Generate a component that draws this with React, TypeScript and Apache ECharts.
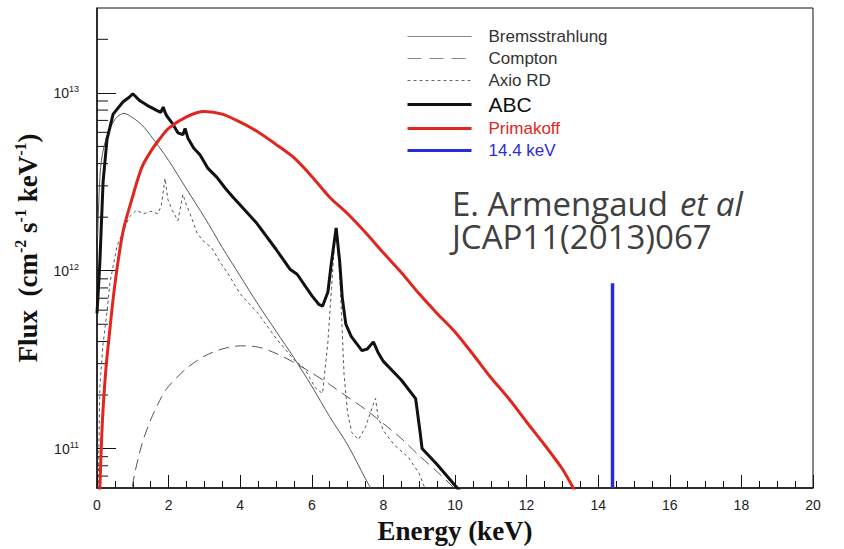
import React, { useEffect, useRef } from "react";
import * as echarts from "echarts";

// Solar axion flux components, energy in keV, flux in cm^-2 s^-1 keV^-1
const bremsEnergy = [0.02, 0.1, 0.25, 0.5, 0.75, 1.0, 1.25, 1.5, 2.0, 2.5, 3.0, 3.5, 4.0, 4.5, 5.0, 5.5, 6.0, 6.5, 7.0, 7.5, 8.0];
const bremsFlux = [1.58e12, 3.8e12, 5.5e12, 7.08e12, 7.67e12, 7.24e12, 6.61e12, 5.75e12, 4.17e12, 2.88e12, 2.0e12, 1.35e12, 9.33e11, 6.46e11, 4.57e11, 3.24e11, 2.24e11, 1.51e11, 1.05e11, 6.76e10, 4.47e10];

const comptonEnergy = [0.85, 1.0, 1.25, 1.5, 1.75, 2.0, 2.5, 3.0, 3.5, 4.0, 4.5, 5.0, 5.5, 6.0, 6.5, 7.0, 7.5, 8.0, 8.5, 9.0, 9.5, 10.0, 10.2];
const comptonFlux = [3.16e10, 6.31e10, 1.05e11, 1.45e11, 1.86e11, 2.24e11, 2.82e11, 3.31e11, 3.63e11, 3.78e11, 3.72e11, 3.43e11, 3.05e11, 2.66e11, 2.29e11, 1.95e11, 1.66e11, 1.38e11, 1.14e11, 9.12e10, 7.41e10, 5.89e10, 5.0e10];

const axioEnergy = [0.02, 0.08, 0.17, 0.28, 0.36, 0.56, 0.73, 0.9, 1.1, 1.3, 1.5, 1.7, 1.8, 1.9, 1.98, 2.1, 2.26, 2.4, 2.5, 2.6, 2.8, 3.0, 3.2, 3.4, 3.7, 4.0, 4.5, 5.0, 5.5, 5.8, 6.1, 6.3, 6.45, 6.55, 6.65, 6.72, 6.8, 6.9, 7.0, 7.12, 7.3, 7.5, 7.7, 7.78, 7.85, 8.0, 8.3, 8.7, 9.0, 9.15, 9.3];
const axioFlux = [4.0e10, 2.24e11, 3.89e11, 5.89e11, 8.5e11, 1.38e12, 1.66e12, 2.0e12, 2.19e12, 2.09e12, 2.16e12, 2.09e12, 2.34e12, 3.31e12, 2.51e12, 2.19e12, 1.91e12, 2.69e12, 2.34e12, 2.09e12, 1.62e12, 1.45e12, 1.35e12, 1.15e12, 9.33e11, 7.41e11, 5.75e11, 4.17e11, 3.16e11, 2.82e11, 2.19e11, 2.04e11, 3.98e11, 7.94e11, 1.58e12, 1.41e12, 7.94e11, 2.63e11, 1.58e11, 1.23e11, 1.12e11, 1.32e11, 1.74e11, 1.91e11, 1.51e11, 1.26e11, 1.05e11, 8.91e10, 7.24e10, 6.03e10, 5.0e10];

const abcEnergy = [0.0, 0.04, 0.08, 0.17, 0.28, 0.45, 0.73, 0.9, 1.0, 1.1, 1.2, 1.4, 1.68, 1.78, 1.85, 1.9, 1.95, 2.1, 2.26, 2.4, 2.46, 2.54, 2.7, 2.88, 3.1, 3.35, 3.6, 3.8, 4.0, 4.47, 5.0, 5.39, 5.59, 6.0, 6.2, 6.3, 6.45, 6.55, 6.68, 6.78, 6.85, 6.95, 7.1, 7.4, 7.55, 7.72, 7.85, 8.0, 8.5, 8.9, 9.02, 9.08, 9.5, 10.14, 10.3];
const abcFlux = [5.75e11, 7.94e11, 1.12e12, 3.16e12, 5.5e12, 7.59e12, 8.91e12, 9.44e12, 9.89e12, 9.44e12, 9.02e12, 8.51e12, 7.94e12, 7.76e12, 8.32e12, 7.76e12, 7.41e12, 6.76e12, 5.96e12, 5.82e12, 6.31e12, 5.56e12, 4.9e12, 4.47e12, 3.76e12, 3.35e12, 2.88e12, 2.59e12, 2.34e12, 1.84e12, 1.32e12, 1.02e12, 9.55e11, 7.24e11, 6.46e11, 6.31e11, 7.59e11, 1.12e12, 1.74e12, 1.12e12, 7.08e11, 5.01e11, 4.27e11, 3.55e11, 3.63e11, 3.98e11, 3.47e11, 3.09e11, 2.43e11, 1.91e11, 1.26e11, 1.0e11, 8.13e10, 5.75e10, 5.25e10];

const primakoffEnergy = [0.05, 0.08, 0.15, 0.25, 0.35, 0.45, 0.6, 0.75, 1.0, 1.25, 1.5, 1.75, 2.0, 2.5, 3.0, 3.5, 4.0, 4.5, 5.0, 5.5, 6.0, 6.5, 7.0, 7.5, 8.0, 8.5, 9.0, 9.5, 10.0, 10.5, 11.0, 11.5, 12.0, 12.5, 13.0, 13.3, 13.6];
const primakoffFlux = [4.0e10, 6.0e10, 1.41e11, 2.82e11, 4.47e11, 6.92e11, 1.17e12, 1.74e12, 2.63e12, 3.8e12, 4.68e12, 5.5e12, 6.31e12, 7.33e12, 7.85e12, 7.59e12, 6.84e12, 6.03e12, 5.13e12, 4.32e12, 3.39e12, 2.59e12, 2.09e12, 1.64e12, 1.26e12, 9.77e11, 7.41e11, 5.75e11, 4.52e11, 3.39e11, 2.51e11, 1.91e11, 1.41e11, 1.05e11, 7.67e10, 6.03e10, 4.8e10];

// 14.4 keV line from the 57Fe M1 transition
const ironEnergy = [14.4, 14.4];
const ironFlux = [6.0e10, 8.5e11];

const xTicks = { min: 0, max: 20, interval: 2 };
const yRange = { min: 6e10, max: 3e13 };
const yMinorTicks = [7e10, 8e10, 9e10, 2e11, 3e11, 4e11, 5e11, 6e11, 7e11, 8e11, 9e11, 2e12, 3e12, 4e12, 5e12, 6e12, 7e12, 8e12, 9e12, 2e13];

const zip = (xs: number[], ys: number[]) => xs.map((x, i) => [x, ys[i]]);

const GREY = "#555555";
const RED = "#e0261f";
const BLUE = "#2b2bd6";

export default function App() {
  const ref = useRef<HTMLDivElement>(null);

  useEffect(() => {
    if (!ref.current) return;
    const chart = echarts.init(ref.current, null, { renderer: "svg" });

    const labelFont = "Liberation Sans";
    const titleFont = "Liberation Serif";

    chart.setOption({
      animation: false,
      backgroundColor: "#ffffff",
      grid: {
        left: 97,
        right: 31,
        top: 8,
        bottom: 54,
        show: true,
        borderColor: "#111",
        borderWidth: 1,
        backgroundColor: "transparent",
      },
      legend: {
        orient: "vertical",
        left: 406,
        top: 28,
        itemWidth: 64,
        itemHeight: 14,
        itemGap: 5,
        padding: 0,
        selectedMode: false,
        // line samples only, no marker dot
        itemStyle: { color: "rgba(0,0,0,0)", borderColor: "rgba(0,0,0,0)", borderWidth: 0 },
        textStyle: {
          fontFamily: labelFont,
          fontSize: 17,
          color: "#333",
          lineHeight: 16,
          padding: [0, 0, 0, 12],
        },
        data: [
          { name: "Bremsstrahlung", lineStyle: { color: "#888", width: 1.2 } },
          { name: "Compton", lineStyle: { color: "#888", width: 1.2, type: [14, 8] } },
          { name: "Axio RD", lineStyle: { color: "#666", width: 1.2, type: [3, 3] } },
          { name: "ABC", lineStyle: { color: "#111", width: 3 }, textStyle: { fontSize: 21, lineHeight: 16, color: "#111" } },
          { name: "Primakoff", lineStyle: { color: RED, width: 3 }, textStyle: { color: RED } },
          { name: "14.4 keV", lineStyle: { color: BLUE, width: 3 }, textStyle: { color: BLUE } },
        ],
      },
      xAxis: {
        type: "value",
        min: xTicks.min,
        max: xTicks.max,
        interval: xTicks.interval,
        name: "Energy (keV)",
        nameLocation: "middle",
        nameGap: 29,
        nameTextStyle: {
          fontFamily: titleFont,
          fontWeight: "bold",
          fontSize: 27,
          color: "#111",
        },
        axisLine: { show: true, lineStyle: { color: "#111", width: 1.5 } },
        axisTick: { show: true, inside: true, length: 13, lineStyle: { color: "#111" } },
        minorTick: { show: true, splitNumber: 4, length: 7, lineStyle: { color: "#111" } },
        splitLine: { show: false },
        axisLabel: {
          margin: 10,
          fontFamily: labelFont,
          fontSize: 14,
          color: "#222",
        },
      },
      yAxis: {
        type: "log",
        logBase: 10,
        min: yRange.min,
        max: yRange.max,
        name: "Flux  (cm{sup|-2} s{sup|-1} keV{sup|-1})",
        nameLocation: "middle",
        nameRotate: 90,
        nameGap: 40,
        nameTextStyle: {
          fontFamily: titleFont,
          fontWeight: "bold",
          fontSize: 27,
          color: "#111",
          lineHeight: 30,
          rich: {
            sup: {
              fontFamily: titleFont,
              fontWeight: "bold",
              fontSize: 16,
              color: "#111",
              verticalAlign: "top",
            },
          },
        },
        axisLine: { show: true, lineStyle: { color: "#111", width: 1.5 } },
        axisTick: { show: true, inside: true, length: 19, lineStyle: { color: "#111" } },
        splitLine: { show: false },
        axisLabel: {
          margin: 18,
          showMinLabel: false,
          showMaxLabel: false,
          fontFamily: labelFont,
          fontSize: 14,
          color: "#222",
          lineHeight: 16,
          formatter: (v: number) => "10{sup|" + Math.round(Math.log10(v)) + "}",
          rich: {
            sup: { fontFamily: labelFont, fontSize: 9, color: "#222", verticalAlign: "top" },
          },
        },
      },
      graphic: [
        {
          type: "text",
          left: 452,
          top: 187,
          style: {
            text: "E. Armengaud{i|et al}\nJCAP11(2013)067",
            fontFamily: "Open Sans",
            fontSize: 33,
            lineHeight: 33,
            fill: "#404040",
            rich: {
              i: {
                fontFamily: "Open Sans",
                fontSize: 33,
                fontStyle: "italic",
                lineHeight: 33,
                fill: "#404040",
                padding: [0, 0, 0, 12],
              },
            },
          },
        },
      ],
      series: [
        {
          name: "Bremsstrahlung",
          type: "line",
          data: zip(bremsEnergy, bremsFlux),
          symbol: "none",
          smooth: 0.3,
          lineStyle: { color: GREY, width: 1 },
          itemStyle: { color: GREY },
        },
        {
          name: "Compton",
          type: "line",
          data: zip(comptonEnergy, comptonFlux),
          symbol: "none",
          smooth: 0.3,
          lineStyle: { color: GREY, width: 1, type: [11, 6] },
          itemStyle: { color: GREY },
        },
        {
          name: "Axio RD",
          type: "line",
          data: zip(axioEnergy, axioFlux),
          symbol: "none",
          lineStyle: { color: GREY, width: 1, type: [3, 3] },
          itemStyle: { color: GREY },
        },
        {
          name: "ABC",
          type: "line",
          data: zip(abcEnergy, abcFlux),
          symbol: "none",
          lineStyle: { color: "#111", width: 3 },
          itemStyle: { color: "#111" },
        },
        {
          name: "Primakoff",
          type: "line",
          data: zip(primakoffEnergy, primakoffFlux),
          symbol: "none",
          smooth: 0.3,
          lineStyle: { color: RED, width: 3 },
          itemStyle: { color: RED },
        },
        {
          name: "14.4 keV",
          type: "line",
          data: zip(ironEnergy, ironFlux),
          symbol: "none",
          lineStyle: { color: BLUE, width: 3.5 },
          itemStyle: { color: BLUE },
        },
        {
          // logarithmic minor ticks on the flux axis
          type: "custom",
          silent: true,
          data: yMinorTicks.map((v) => [xTicks.min, v]),
          encode: { x: 0, y: 1 },
          renderItem: (_params: any, api: any) => {
            const p = api.coord([api.value(0), api.value(1)]);
            return {
              type: "line",
              shape: { x1: p[0], y1: p[1], x2: p[0] + 11, y2: p[1] },
              style: { stroke: "#111", lineWidth: 1 },
            };
          },
        },
      ],
    });

    return () => chart.dispose();
  }, []);

  return (
    <div
      ref={ref}
      style={{ position: "absolute", left: 0, top: 0, width: 844, height: 549, background: "#fff" }}
    />
  );
}
